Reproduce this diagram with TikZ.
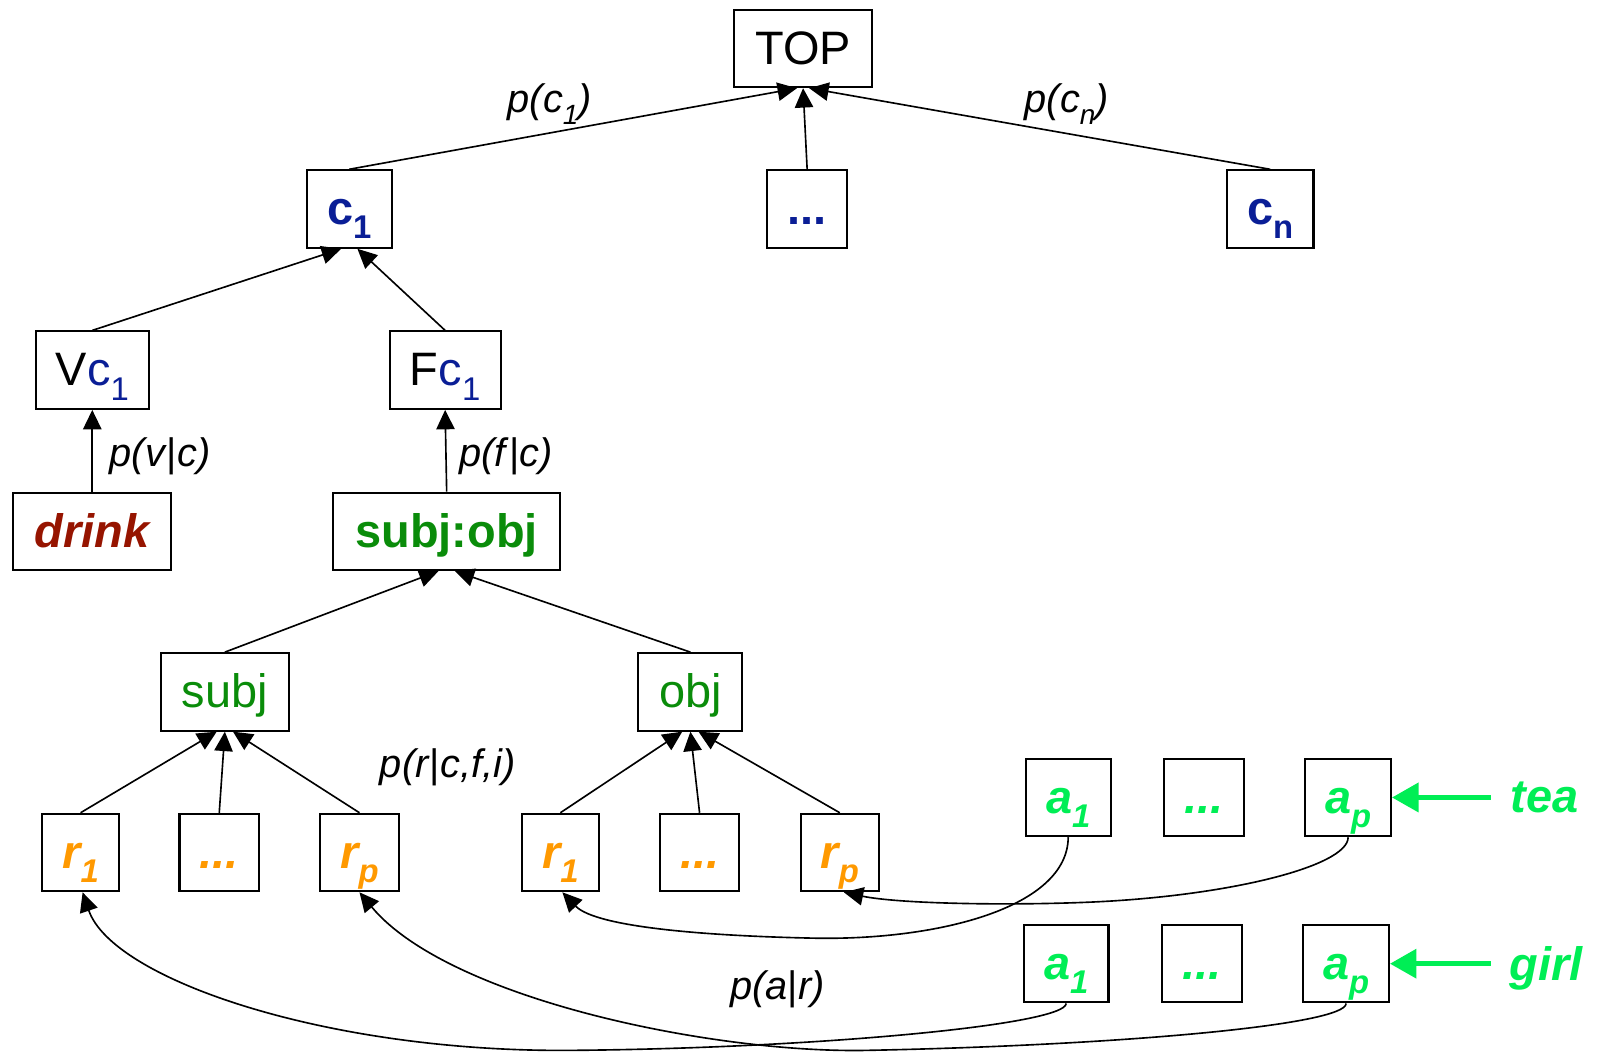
\documentclass[tikz,border=0pt]{standalone}
\usepackage{fontspec}
\setmainfont{Liberation Sans}
\usepackage{graphicx}
\usetikzlibrary{arrows.meta}

\definecolor{cblue}{RGB}{10,30,150}
\definecolor{wred}{RGB}{150,20,0}
\definecolor{fgreen}{RGB}{10,140,10}
\definecolor{rorange}{RGB}{255,153,0}
\definecolor{agreen}{RGB}{0,238,85}

% lowered, reduced index in the current font
\newcommand\sub[1]{\raisebox{-0.3em}{\scalebox{0.7}{#1}}}
\newcommand\bigfont{\fontsize{23}{27}\selectfont}
\newcommand\lblfont{\fontsize{19.5}{23}\selectfont\itshape}
\newcommand\vbar{\textup{|}}

\begin{document}
\begin{tikzpicture}[x=0.5pt,y=-0.5pt,
  box/.style={draw, line width=1pt, inner sep=0pt, minimum height=38pt,
    minimum width=#1, text height=15.5pt, text depth=0pt, font=\bigfont},
  box/.default=39pt,
  catbox/.style={box=#1, font=\bigfont\bfseries, text=cblue},
  rbox/.style={box=#1, font=\bigfont\bfseries\itshape, text=rorange},
  abox/.style={box=#1, font=\bigfont\bfseries\itshape, text=agreen},
  word/.style={inner sep=0pt, font=\bigfont\bfseries\itshape, text=agreen},
  edge/.style={line width=0.8pt, -{Triangle[length=9.5pt,width=9pt]}},
  gedge/.style={draw=agreen, line width=2.5pt, -{Triangle[length=13pt,width=14pt]}},
  lbl/.style={inner sep=0pt, font=\lblfont},
]
\useasboundingbox (0,0) rectangle (1568,1032);

% class level
\node[box=67.5pt] (top) at (787.5,47.5) {TOP};
\node[catbox=41.5pt] (c1) at (342.5,205) {c\sub{1}};
\node[catbox=39.5pt] (cdots) at (791.5,205) {...};
\node[catbox=42.5pt] (cn) at (1245.5,205) {c\sub{n}};

% verb and frame of class c1
\node[box=55.5pt] (vc) at (90.5,363) {V\textcolor{cblue}{c\sub{1}}};
\node[box=54.5pt] (fc) at (436.5,363) {F\textcolor{cblue}{c\sub{1}}};
\node[box=77.5pt, font=\bigfont\bfseries\itshape, text=wred] (drink) at (90.5,521) {drink};
\node[box=111pt, font=\bigfont\bfseries, text=fgreen] (subjobj) at (438,521) {subj:obj};

% slots
\node[box=62.5pt, text=fgreen] (subj) at (220.5,678.5) {subj};
\node[box=51pt, text=fgreen] (obj) at (677,678.5) {obj};

% role nodes
\node[rbox=38pt] (sr1) at (79,836) {r\sub{1}};
\node[rbox=39pt] (srd) at (215,836) {...};
\node[rbox=38.5pt] (srp) at (352.5,836) {r\sub{p}};
\node[rbox=37.5pt] (or1) at (549.5,836) {r\sub{1}};
\node[rbox=39pt] (ord) at (686,836) {...};
\node[rbox=38.5pt] (orp) at (823.5,836) {r\sub{p}};

% argument nodes
\node[abox=41.5pt] (ta1) at (1047.5,782) {a\sub{1}};
\node[abox=39.5pt] (tad) at (1180.5,782) {...};
\node[abox=42pt] (tap) at (1322,782) {a\sub{p}};
\node[abox=41.5pt] (ga1) at (1045.5,945) {a\sub{1}};
\node[abox=39.5pt] (gad) at (1178.5,945) {...};
\node[abox=42pt] (gap) at (1320,945) {a\sub{p}};

\node[word, anchor=base west] (tea) at (1481,797) {tea};
\node[word, anchor=base west] (girl) at (1480,961) {girl};
\coordinate (teatail) at (1462,782);
\coordinate (girltail) at (1462,945);

% tree edges
\draw[edge] (c1.north) -- ([xshift=-3pt]top.south);
\draw[edge] (cdots.north) -- (top.south);
\draw[edge] (cn.north) -- ([xshift=3pt]top.south);
\draw[edge] (vc.north) -- ([xshift=-4pt]c1.south);
\draw[edge] (fc.north) -- ([xshift=4pt]c1.south);
\draw[edge] (drink.north) -- (vc.south);
\draw[edge] (subjobj.north) -- (fc.south);
\draw[edge] (subj.north) -- ([xshift=-4pt]subjobj.south);
\draw[edge] (obj.north) -- ([xshift=4pt]subjobj.south);
\draw[edge] (sr1.north) -- ([xshift=-4pt]subj.south);
\draw[edge] (srd.north) -- (subj.south);
\draw[edge] (srp.north) -- ([xshift=4pt]subj.south);
\draw[edge] (or1.north) -- ([xshift=-4pt]obj.south);
\draw[edge] (ord.north) -- (obj.south);
\draw[edge] (orp.north) -- ([xshift=4pt]obj.south);

% argument-to-role links
\draw[edge] (ta1.south) .. controls (1047,890) and (920,922) .. (800,920)
  .. controls (700,918) and (585,910) .. ([xshift=1pt]or1.south);
\draw[edge] (tap.south) .. controls (1322,850) and (1200,880) .. (1060,885)
  .. controls (980,888) and (880,886) .. ([xshift=2pt]orp.south);
\draw[edge] (ga1.south) .. controls (1045,1005) and (800,1028) .. (560,1030)
  .. controls (320,1032) and (110,960) .. ([xshift=1pt]sr1.south);
\draw[edge] (gap.south) .. controls (1320,1005) and (1100,1025) .. (850,1030)
  .. controls (700,1033) and (440,980) .. (srp.south);

% observed words
\draw[gedge] (teatail) -- (tap.east);
\draw[gedge] (girltail) -- (gap.east);

% probability labels
\node[lbl] (lpc1) at (539,102) {p(c\sub{1})};
\node[lbl] (lpcn) at (1046,102) {p(c\sub{n})};
\node[lbl] (lpv) at (157,447) {p(v\vbar c)};
\node[lbl] (lpf) at (496,447) {p(f\vbar c)};
\node[lbl] (lpr) at (439,752) {p(r\vbar c,f,i)};
\node[lbl] (lpa) at (762.5,970) {p(a\vbar r)};
\end{tikzpicture}
\end{document}
